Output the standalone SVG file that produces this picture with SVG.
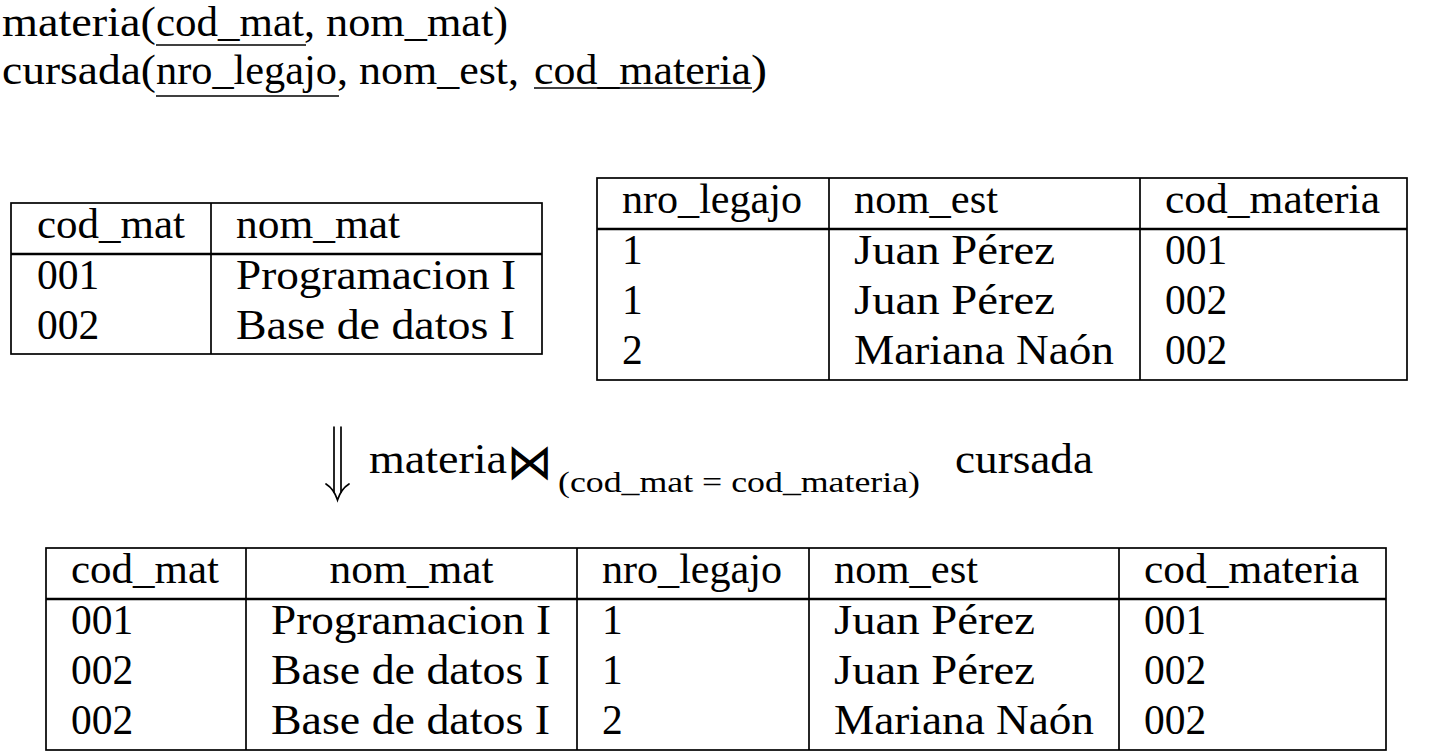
<svg xmlns="http://www.w3.org/2000/svg" width="1432" height="751" viewBox="0 0 1432 751">
<style>
.t{font-family:"Liberation Serif","DejaVu Serif",serif;font-size:41.5px;fill:#000}
.s{font-family:"Liberation Serif","DejaVu Serif",serif;font-size:30px;fill:#000}
.sym{font-family:"DejaVu Serif","DejaVu Sans",serif;font-size:50px;fill:#000}
.m{text-anchor:middle}
.b{stroke:#000;stroke-width:1.7;fill:none}
.h{stroke:#000;stroke-width:2.6;fill:none}
.u{stroke:#000;stroke-width:1.7}
.a{stroke:#000;stroke-width:1.7;fill:none;stroke-linecap:round}
</style>
<rect width="1432" height="751" fill="#fff"/>
<g id="schema">
<text class="t" x="2" y="36" textLength="154" lengthAdjust="spacingAndGlyphs">materia(</text>
<text class="t" x="156" y="36" textLength="148" lengthAdjust="spacingAndGlyphs">cod_mat</text>
<text class="t" x="304" y="36" textLength="204" lengthAdjust="spacingAndGlyphs">, nom_mat)</text>
<line class="u" x1="156" y1="45" x2="306" y2="45"/>
<text class="t" x="2" y="84" textLength="154" lengthAdjust="spacingAndGlyphs">cursada(</text>
<text class="t" x="156" y="84" textLength="181" lengthAdjust="spacingAndGlyphs">nro_legajo</text>
<text class="t" x="337" y="84" textLength="182" lengthAdjust="spacingAndGlyphs">, nom_est,</text>
<text class="t" x="534" y="84" textLength="217" lengthAdjust="spacingAndGlyphs">cod_materia</text>
<text class="t" x="751" y="84" textLength="16" lengthAdjust="spacingAndGlyphs">)</text>
<line class="u" x1="156" y1="96" x2="339" y2="96"/>
<line class="u" x1="534" y1="88" x2="752" y2="88"/>
</g>
<g id="materia">
<rect class="b" x="11" y="203" width="531" height="151"/>
<line class="h" x1="11" y1="254" x2="542" y2="254"/>
<line class="b" x1="211" y1="203" x2="211" y2="354"/>
<text class="t" x="37" y="238" textLength="148" lengthAdjust="spacingAndGlyphs">cod_mat</text>
<text class="t" x="236" y="238" textLength="164" lengthAdjust="spacingAndGlyphs">nom_mat</text>
<text class="t" x="37" y="289">001</text>
<text class="t" x="236" y="289" textLength="280" lengthAdjust="spacingAndGlyphs">Programacion I</text>
<text class="t" x="37" y="339">002</text>
<text class="t" x="236" y="339" textLength="279" lengthAdjust="spacingAndGlyphs">Base de datos I</text>
</g>
<g id="cursada">
<rect class="b" x="597" y="178" width="810" height="202"/>
<line class="h" x1="597" y1="229" x2="1407" y2="229"/>
<line class="b" x1="829" y1="178" x2="829" y2="380"/>
<line class="b" x1="1140" y1="178" x2="1140" y2="380"/>
<text class="t" x="622" y="213" textLength="180" lengthAdjust="spacingAndGlyphs">nro_legajo</text>
<text class="t" x="854" y="213" textLength="144" lengthAdjust="spacingAndGlyphs">nom_est</text>
<text class="t" x="1165" y="213" textLength="215" lengthAdjust="spacingAndGlyphs">cod_materia</text>
<text class="t" x="622" y="264">1</text>
<text class="t" x="854" y="264" textLength="201" lengthAdjust="spacingAndGlyphs">Juan Pérez</text>
<text class="t" x="1165" y="264">001</text>
<text class="t" x="622" y="314">1</text>
<text class="t" x="854" y="314" textLength="201" lengthAdjust="spacingAndGlyphs">Juan Pérez</text>
<text class="t" x="1165" y="314">002</text>
<text class="t" x="622" y="364">2</text>
<text class="t" x="854" y="364" textLength="260" lengthAdjust="spacingAndGlyphs">Mariana Naón</text>
<text class="t" x="1165" y="364">002</text>
</g>
<g id="connectors">
<line class="a" x1="334" y1="427" x2="334" y2="492"/>
<line class="a" x1="341" y1="427" x2="341" y2="492"/>
<path class="a" d="M326,484 Q334,489 337.5,500 Q341,489 349,484"/>
</g>
<g id="join-label">
<text class="t" x="369" y="473" textLength="138" lengthAdjust="spacingAndGlyphs">materia</text>
<text class="sym" x="507" y="479" textLength="46" lengthAdjust="spacingAndGlyphs">⋈</text>
<text class="s" x="558" y="492" textLength="362" lengthAdjust="spacingAndGlyphs">(cod_mat = cod_materia)</text>
<text class="t" x="955" y="473" textLength="138" lengthAdjust="spacingAndGlyphs">cursada</text>
</g>
<g id="result">
<rect class="b" x="46" y="548" width="1340" height="202"/>
<line class="h" x1="46" y1="599" x2="1386" y2="599"/>
<line class="b" x1="246" y1="548" x2="246" y2="750"/>
<line class="b" x1="577" y1="548" x2="577" y2="750"/>
<line class="b" x1="809" y1="548" x2="809" y2="750"/>
<line class="b" x1="1119" y1="548" x2="1119" y2="750"/>
<text class="t" x="71" y="583" textLength="148" lengthAdjust="spacingAndGlyphs">cod_mat</text>
<text class="t m" x="411.5" y="583" textLength="164" lengthAdjust="spacingAndGlyphs">nom_mat</text>
<text class="t" x="602" y="583" textLength="180" lengthAdjust="spacingAndGlyphs">nro_legajo</text>
<text class="t" x="834" y="583" textLength="144" lengthAdjust="spacingAndGlyphs">nom_est</text>
<text class="t" x="1144" y="583" textLength="215" lengthAdjust="spacingAndGlyphs">cod_materia</text>
<text class="t" x="71" y="634">001</text>
<text class="t" x="271" y="634" textLength="280" lengthAdjust="spacingAndGlyphs">Programacion I</text>
<text class="t" x="602" y="634">1</text>
<text class="t" x="834" y="634" textLength="201" lengthAdjust="spacingAndGlyphs">Juan Pérez</text>
<text class="t" x="1144" y="634">001</text>
<text class="t" x="71" y="684">002</text>
<text class="t" x="271" y="684" textLength="279" lengthAdjust="spacingAndGlyphs">Base de datos I</text>
<text class="t" x="602" y="684">1</text>
<text class="t" x="834" y="684" textLength="201" lengthAdjust="spacingAndGlyphs">Juan Pérez</text>
<text class="t" x="1144" y="684">002</text>
<text class="t" x="71" y="734">002</text>
<text class="t" x="271" y="734" textLength="279" lengthAdjust="spacingAndGlyphs">Base de datos I</text>
<text class="t" x="602" y="734">2</text>
<text class="t" x="834" y="734" textLength="260" lengthAdjust="spacingAndGlyphs">Mariana Naón</text>
<text class="t" x="1144" y="734">002</text>
</g>
</svg>
